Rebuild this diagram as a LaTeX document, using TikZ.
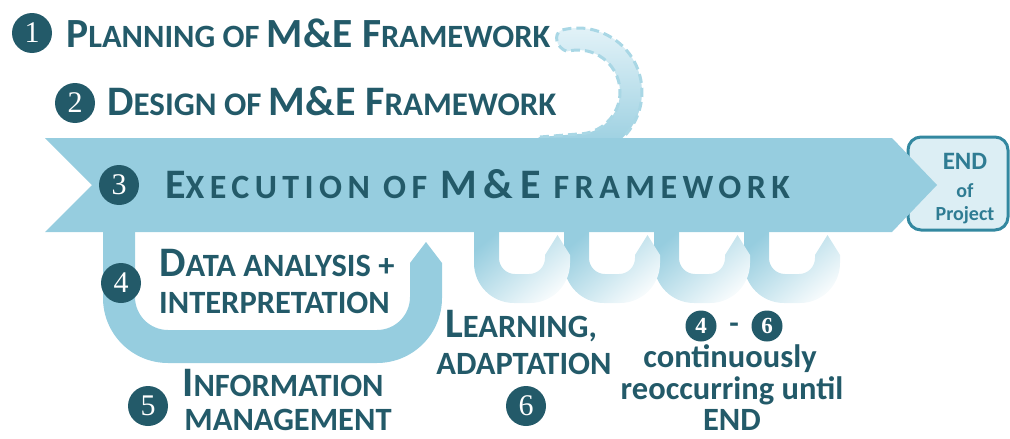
\documentclass[tikz,border=0pt]{standalone}
\usepackage{fontspec}
\setmainfont{Carlito}
\newfontfamily\numfont{Liberation Serif}
\usetikzlibrary{shadings}
\definecolor{ink}{HTML}{235A69}
\definecolor{arrowblue}{HTML}{96CDDF}
\definecolor{hooklight}{HTML}{E6F4F9}
\definecolor{hookdash}{HTML}{A9D7E5}
\definecolor{endfill}{HTML}{DCEEF4}
\definecolor{endline}{HTML}{3388A0}
\definecolor{endtext}{HTML}{2F7C93}
\newcommand\SCb[2]{{\fontsize{#1}{#1}\selectfont #2}}
\tikzset{
  num/.style={circle, fill=ink, text=white, inner sep=0pt, minimum size=40pt,
    font=\numfont\fontsize{30}{30}\selectfont},
  smallnum/.style={num, minimum size=31pt, font=\numfont\bfseries\fontsize{23}{23}\selectfont},
  txt/.style={text=ink, inner sep=0pt, font=\bfseries},
  endtxt/.style={text=endtext, inner sep=0pt, font=\bfseries},
  band/.style={fill=arrowblue},
  fadeband/.style={top color=arrowblue, bottom color=arrowblue!8!white, shading angle=40},
  hookband/.style={top color=hooklight, bottom color=arrowblue, draw=hookdash,
    line width=3pt, dash pattern=on 9pt off 5pt},
  endbox/.style={draw=endline, line width=3pt, fill=endfill, rounded corners=13pt,
    minimum width=100pt, minimum height=93pt, inner sep=0pt},
}
\begin{document}
\begin{tikzpicture}[x=1pt,y=-1pt]
\useasboundingbox (0,0) rectangle (1010,439);
% dashed hook from design to execution
\path[hookband] (540,137) -- (578,134) arc[start angle=90, end angle=-105, radius=42]
  .. controls (556,48) and (553,34) .. (561.4,30.2)
  arc[start angle=-105, end angle=80, radius=64] -- (540,155) -- cycle;
% END box
\node[endbox] (endbox) at (958,183.5) {};
% main arrow
\fill[arrowblue] (45,138) -- (892,138) -- (937,185) -- (892,232) -- (45,232) -- (92,185) -- cycle;
% big U loop
\fill[band] (103,225) -- (103,298) arc[start angle=180, end angle=90, radius=65]
  -- (377,363) arc[start angle=90, end angle=0, radius=65]
  -- (442,263) -- (426,242) -- (410,263)
  -- (410,297) arc[start angle=0, end angle=90, radius=33]
  -- (168,330) arc[start angle=90, end angle=180, radius=33]
  -- (135,225) -- cycle;
% small faded loops
\foreach \L in {744,654,564,474}{
  \path[fadeband] (\L,228) -- (\L,263) arc[start angle=180, end angle=90, radius=40]
    -- (\L+56,303) arc[start angle=90, end angle=0, radius=40]
    -- (\L+96,255) -- (\L+83.5,235) -- (\L+71,255)
    -- (\L+71,258) arc[start angle=0, end angle=90, radius=16]
    -- (\L+41,274) arc[start angle=90, end angle=180, radius=16]
    -- (\L+25,228) -- cycle;
}
% numbers
\node[num] (n1) at (32,33) {1};
\node[num] (n2) at (75,103) {2};
\node[num] (n3) at (119,185) {3};
\node[num] (n4) at (121,283) {4};
\node[num] (n5) at (148,406) {5};
\node[num] (n6) at (526,406) {6};
\node[smallnum] (m4) at (701,326) {4};
\node[smallnum] (m6) at (767,326) {6};
% texts
\node[txt, anchor=base west] (t1) at (66,47)
  {\SCb{41.5}{P}\SCb{32.5}{LANNING OF }\SCb{41.5}{M\&E F}\SCb{32.5}{RAMEWORK}};
\node[txt, anchor=base west] (t2) at (107,115)
  {\SCb{42}{D}\SCb{33}{ESIGN OF }\SCb{42}{M\&E F}\SCb{33}{RAMEWORK}};
\node[txt, anchor=base west] (t3) at (165,198)
  {\addfontfeatures{LetterSpace=16}\SCb{42}{E}\SCb{34}{XECUTION OF }\SCb{42}{M\&E}\SCb{34}{ FRAMEWORK}};
\node[txt, anchor=base west] (t4a) at (159,276) {\SCb{42}{D}\SCb{32.5}{ATA ANALYSIS +}};
\node[txt, anchor=base west] (t4b) at (159,313) {\SCb{32.5}{INTERPRETATION}};
\node[txt, anchor=base] (t5a) at (283,396) {\SCb{42}{I}\SCb{32.5}{NFORMATION}};
\node[txt, anchor=base] (t5b) at (288,430) {\SCb{32.5}{MANAGEMENT}};
\node[txt, anchor=base] (t6a) at (521,337) {\SCb{42}{L}\SCb{32.5}{EARNING,}};
\node[txt, anchor=base] (t6b) at (524,374) {\SCb{32.5}{ADAPTATION}};
\node[txt] (dash) at (734,328) {\SCb{31}{-}};
\node[txt, anchor=base] (c1) at (730,367) {\SCb{32.5}{continuously}};
\node[txt, anchor=base] (c2) at (732,399) {\SCb{32.5}{reoccurring until}};
\node[txt, anchor=base] (c3) at (732,430) {\SCb{32.5}{END}};
\node[endtxt, anchor=base] (e1) at (965,169) {\SCb{25}{END}};
\node[endtxt, anchor=base] (e2) at (965,197) {\SCb{20}{of}};
\node[endtxt, anchor=base] (e3) at (965,220) {\SCb{20}{Project}};
\end{tikzpicture}
\end{document}
